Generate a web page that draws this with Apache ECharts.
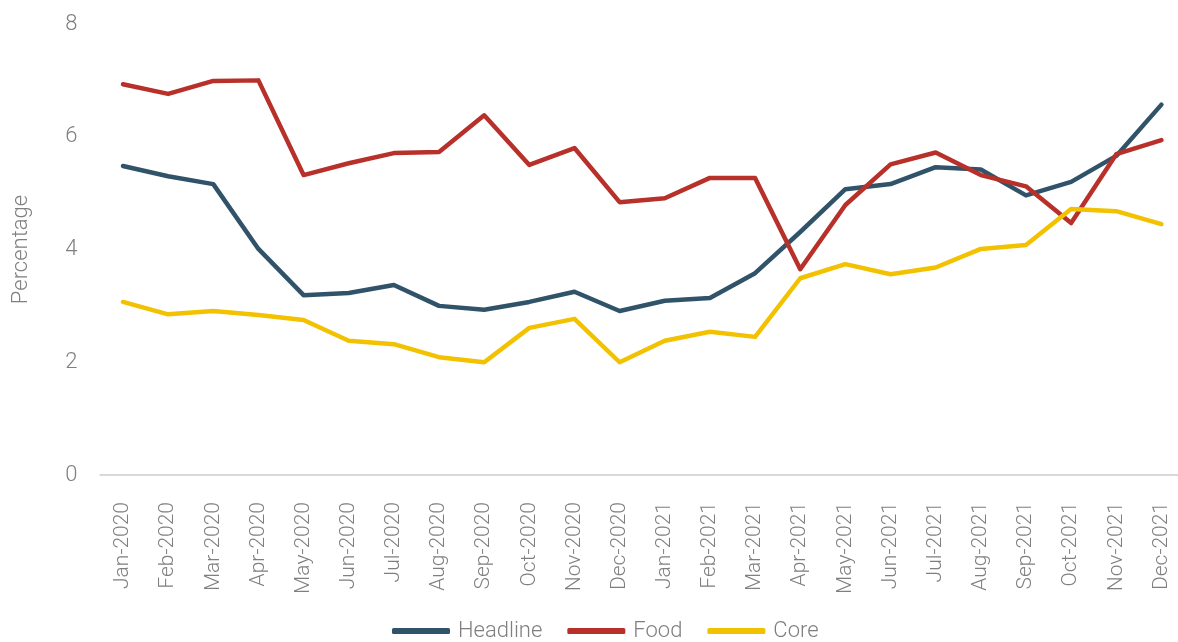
<!DOCTYPE html>
<html>
<head>
<meta charset="utf-8">
<script src="https://cdn.jsdelivr.net/npm/echarts@6/dist/echarts.min.js"></script>
<style>
html,body{margin:0;padding:0;background:#fff;overflow:hidden;}
#chart{width:1184px;height:642px;}
</style>
</head>
<body>
<div id="chart"></div>
<script>
var categories = ["Jan-2020","Feb-2020","Mar-2020","Apr-2020","May-2020","Jun-2020","Jul-2020","Aug-2020","Sep-2020","Oct-2020","Nov-2020","Dec-2020",
  "Jan-2021","Feb-2021","Mar-2021","Apr-2021","May-2021","Jun-2021","Jul-2021","Aug-2021","Sep-2021","Oct-2021","Nov-2021","Dec-2021"];
var headline = [5.48,5.30,5.16,4.01,3.19,3.23,3.37,3.00,2.93,3.07,3.25,2.91,3.09,3.14,3.58,4.31,5.07,5.16,5.46,5.42,4.96,5.20,5.66,6.57];
var food = [6.93,6.76,6.99,7.00,5.32,5.53,5.71,5.73,6.38,5.50,5.80,4.84,4.91,5.27,5.27,3.65,4.79,5.51,5.72,5.32,5.12,4.47,5.69,5.94];
var core = [3.07,2.85,2.91,2.84,2.75,2.38,2.32,2.09,2.00,2.61,2.77,2.00,2.38,2.54,2.45,3.49,3.74,3.56,3.68,4.01,4.08,4.72,4.68,4.45];
var yTicks = [0,2,4,6,8];

var textColor = '#7f7f7f';
var fontFam = 'Roboto, "Liberation Sans", sans-serif';
function mkSeries(name, data, color) {
  return {
    name: name, type: 'line', data: data, symbol: 'none',
    lineStyle: {color: color, width: 4.5, cap: 'round', join: 'round'},
    itemStyle: {color: color}
  };
}
var chart = echarts.init(document.getElementById('chart'), null, {renderer: 'canvas'});
chart.setOption({
  animation: false,
  backgroundColor: '#fff',
  grid: {left: 100.4, right: 0, top: 24, bottom: 167, containLabel: false},
  xAxis: {
    type: 'category', data: categories, boundaryGap: true,
    axisLine: {lineStyle: {color: '#d9d9d9', width: 2}},
    axisTick: {show: false},
    axisLabel: {rotate: 90, margin: 27, color: textColor, fontSize: 21, fontWeight: 300, fontFamily: fontFam, interval: 0}
  },
  yAxis: {
    type: 'value', min: yTicks[0], max: yTicks[yTicks.length - 1], interval: 2,
    name: 'Percentage', nameLocation: 'middle', nameGap: 68, nameRotate: 90,
    nameTextStyle: {color: textColor, fontSize: 22, fontWeight: 300, fontFamily: fontFam},
    axisLine: {show: false}, axisTick: {show: false}, splitLine: {show: false},
    axisLabel: {margin: 23, color: textColor, fontSize: 22, fontWeight: 300, fontFamily: fontFam}
  },
  legend: {
    left: 387, top: 615, icon: 'roundRect', itemWidth: 58, itemHeight: 6, itemGap: 25,
    textStyle: {color: textColor, fontSize: 22, fontWeight: 300, fontFamily: fontFam, padding: [0, 0, 0, 3]},
    data: ['Headline', 'Food', 'Core']
  },
  series: [
    mkSeries('Headline', headline, '#31536a'),
    mkSeries('Food', food, '#b8302a'),
    mkSeries('Core', core, '#f2c200')
  ]
});
</script>
</body>
</html>
